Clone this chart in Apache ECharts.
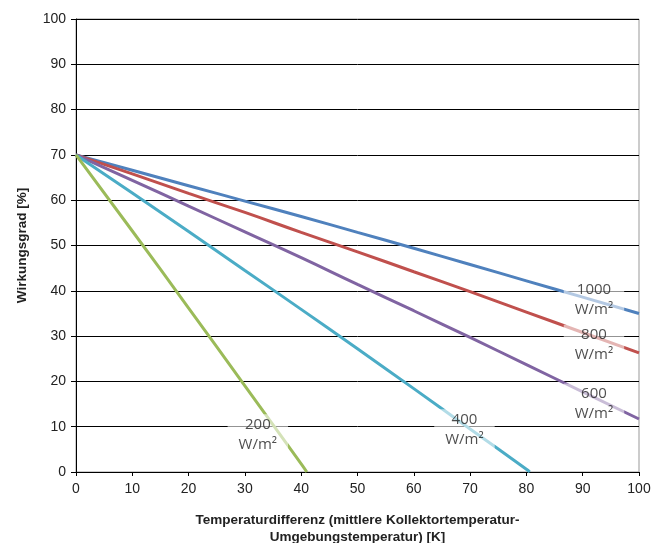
<!DOCTYPE html>
<html><head><meta charset="utf-8">
<script src="https://cdn.jsdelivr.net/npm/echarts@6/dist/echarts.min.js"></script>
<style>html,body{margin:0;padding:0;background:#fff}#c{width:653px;height:543px}</style>
</head><body><div id="c"></div>
<script>
// Temperature difference (K)
const tempDiff = [0, 10, 20, 30, 40, 50, 60, 70, 80, 90, 100];
// Efficiency [%] per irradiance
const eta1000 = [70, 66.6, 63.2, 59.8, 56.4, 52.9, 49.4, 45.8, 42.2, 38.6, 35.0];
const eta800  = [70, 65.8, 61.5, 57.3, 52.9, 48.6, 44.2, 39.8, 35.3, 30.8, 26.3];
const eta600  = [70, 64.4, 58.7, 53.0, 47.3, 41.4, 35.6, 29.7, 23.7, 17.7, 11.7];
const temp400 = [0, 10, 20, 30, 40, 50, 60, 70, 80, 80.6];
const eta400  = [70, 61.6, 53.1, 44.5, 35.9, 27.2, 18.4, 9.5, 0.6, 0];
const temp200 = [0, 10, 20, 30, 40, 41];
const eta200  = [70, 53.2, 36.2, 19.0, 1.8, 0];
const xTicks = [0, 10, 20, 30, 40, 50, 60, 70, 80, 90, 100];
const yTicks = [0, 10, 20, 30, 40, 50, 60, 70, 80, 90, 100];
const labelTexts = ['1000\nW/m²', '800\nW/m²', '600\nW/m²', '400\nW/m²', '200\nW/m²'];
const labelAnchorX = [92, 92, 92, 69, 32.3];
const labelAnchorY = [38, 28, 15, 9.3, 8.2];

const zip = (xs, ys) => xs.map((x, i) => [x, ys[i]]);
const colors = ['#4F81BD', '#C0504D', '#8064A2', '#4BACC6', '#9BBB59'];
const lineData = [zip(tempDiff, eta1000), zip(tempDiff, eta800), zip(tempDiff, eta600), zip(temp400, eta400), zip(temp200, eta200)];

const series = lineData.map((d, i) => ({
  type: 'line', data: d, smooth: true, symbol: 'none',
  lineStyle: { color: colors[i], width: 3 }, z: 3
}));
series.push({
  type: 'scatter', symbolSize: 0, z: 10,
  data: labelAnchorX.map((x, i) => ({ value: [x, labelAnchorY[i]], name: labelTexts[i] })),
  label: {
    show: true, position: 'inside', formatter: p => p.name,
    fontFamily: 'Open Sans', fontSize: 15, color: '#222', lineHeight: 20,
    backgroundColor: 'rgba(255,255,255,0.72)', padding: [1, 11, 0, 11]
  },
  emphasis: { disabled: true }
});

const chart = echarts.init(document.getElementById('c'));
chart.setOption({
  animation: false,
  textStyle: { fontFamily: 'Liberation Sans' },
  grid: { left: 76, right: 14, top: 19, bottom: 71, show: true, borderColor: '#999', borderWidth: 1,
          containLabel: false, outerBoundsMode: 'none' },
  xAxis: {
    type: 'value', min: 0, max: 100, interval: 10,
    axisLine: { lineStyle: { color: '#000', width: 1 } },
    axisTick: { show: true, length: 4, lineStyle: { color: '#000' } },
    axisLabel: { color: '#222', fontSize: 14, margin: 10 },
    splitLine: { show: false },
    name: 'Temperaturdifferenz (mittlere Kollektortemperatur-\nUmgebungstemperatur) [K]',
    nameLocation: 'middle', nameGap: 40,
    nameTextStyle: { fontWeight: 'bold', fontSize: 13.5, color: '#222', lineHeight: 17 }
  },
  yAxis: {
    type: 'value', min: 0, max: 100, interval: 10,
    axisLine: { show: true, lineStyle: { color: '#000', width: 1 } },
    axisTick: { show: true, length: 5, lineStyle: { color: '#000' } },
    axisLabel: { color: '#222', fontSize: 14, margin: 10 },
    splitLine: { show: true, lineStyle: { color: '#000', width: 1 } },
    name: 'Wirkungsgrad [%]', nameLocation: 'middle', nameGap: 47,
    nameTextStyle: { fontWeight: 'bold', fontSize: 13.5, color: '#222' }
  },
  series
});
</script></body></html>
